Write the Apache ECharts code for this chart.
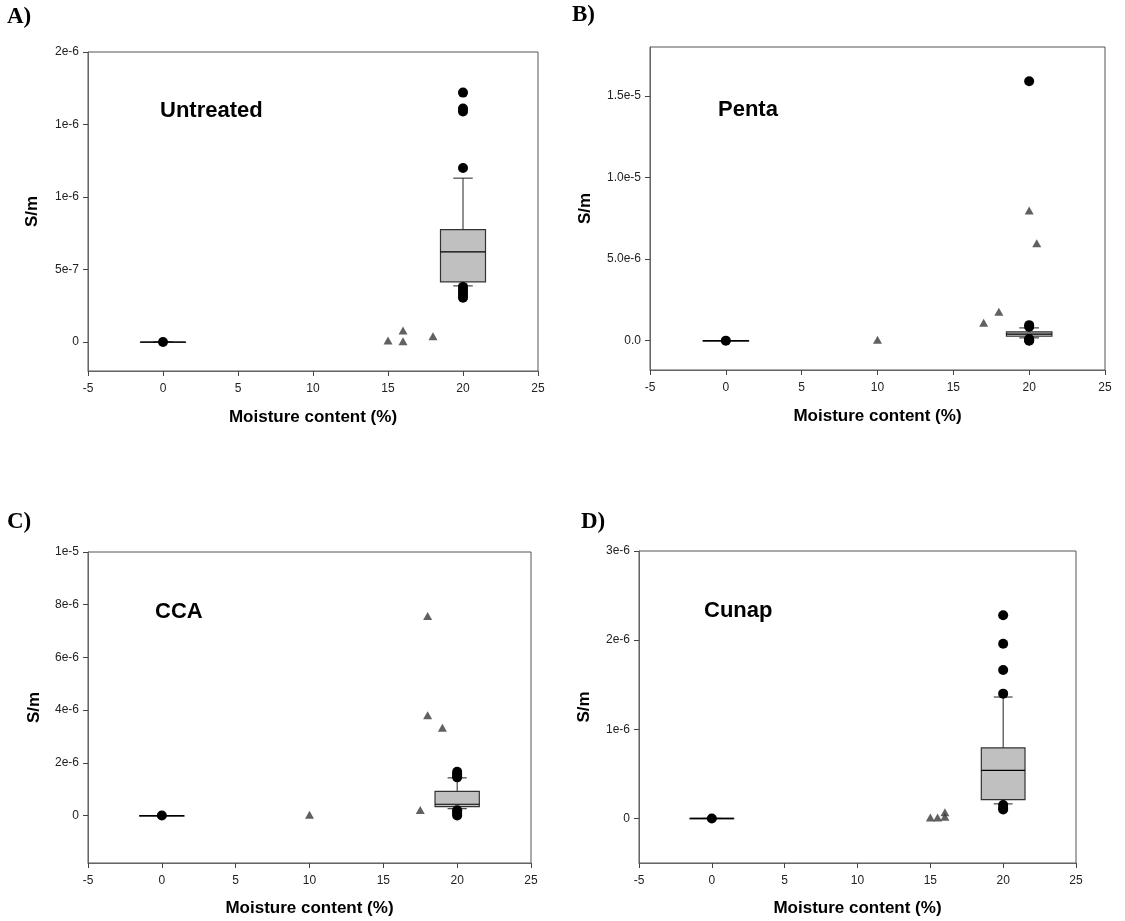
<!DOCTYPE html>
<html>
<head>
<meta charset="utf-8">
<script src="https://cdn.jsdelivr.net/npm/echarts@6/dist/echarts.min.js"></script>
<style>
html,body{margin:0;padding:0;background:#fff;}
#chart{width:1125px;height:921px;}
</style>
</head>
<body>
<div id="chart"></div>
<script>
// ---------- DATA ----------
// box rows: [x, lowerWhisker, Q1, median, Q3, upperWhisker]
var boxA = [[0, 0, 0, 0, 0, 0], [20, 3.87e-7, 4.15e-7, 6.22e-7, 7.75e-7, 1.13e-6]];
var dotsA = [[0, 0], [20, 1.72e-6], [20, 1.61e-6], [20, 1.59e-6], [20, 1.2e-6],
             [20, 3.8e-7], [20, 3.6e-7], [20, 3.4e-7], [20, 3.2e-7], [20, 3.05e-7]];
var triA = [[15, 1e-8], [16, 8e-8], [16, 5e-9], [18, 4e-8]];

var boxB = [[0, 0, 0, 0, 0, 0], [20, 1.7e-7, 2.7e-7, 4.0e-7, 5.4e-7, 7.8e-7]];
var dotsB = [[0, 0], [20, 1.59e-5], [20, 9.5e-7], [20, 8.5e-7], [20, 1e-7], [20, 3e-8], [20, 0]];
var triB = [[10, 5e-8], [17, 1.09e-6], [18, 1.77e-6], [20, 7.98e-6], [20.5, 5.97e-6]];

var boxC = [[0, 0, 0, 0, 0, 0], [20, 2.6e-7, 3.4e-7, 4.3e-7, 9.2e-7, 1.43e-6]];
var dotsC = [[0, 0], [20, 1.66e-6], [20, 1.58e-6], [20, 1.5e-6], [20, 1.45e-6],
             [20, 2e-7], [20, 1.4e-7], [20, 8e-8], [20, 0]];
var triC = [[10, 3e-8], [17.5, 2.1e-7], [18, 7.57e-6], [18, 3.81e-6], [19, 3.33e-6]];

var boxD = [[0, 0, 0, 0, 0, 0], [20, 1.63e-7, 2.12e-7, 5.38e-7, 7.91e-7, 1.362e-6]];
var dotsD = [[0, 0], [20, 2.28e-6], [20, 1.96e-6], [20, 1.665e-6], [20, 1.4e-6],
             [20, 1.5e-7], [20, 1.2e-7], [20, 1.0e-7]];
var triD = [[15, 1e-8], [15.5, 1e-8], [16, 7e-8], [16, 2e-8]];

var xTicks = [-5, 0, 5, 10, 15, 20, 25];

var yTicksA = [0, 5e-7, 1e-6, 1.5e-6, 2e-6];
var yLabelsA = ['0', '5e-7', '1e-6', '1e-6', '2e-6'];
var yTicksB = [0, 5e-6, 1e-5, 1.5e-5];
var yLabelsB = ['0.0', '5.0e-6', '1.0e-5', '1.5e-5'];
var yTicksC = [0, 2e-6, 4e-6, 6e-6, 8e-6, 1e-5];
var yLabelsC = ['0', '2e-6', '4e-6', '6e-6', '8e-6', '1e-5'];
var yTicksD = [0, 1e-6, 2e-6, 3e-6];
var yLabelsD = ['0', '1e-6', '2e-6', '3e-6'];

var panelLetters = ['A)', 'B)', 'C)', 'D)'];
var treatments = ['Untreated', 'Penta', 'CCA', 'Cunap'];
var xTitle = 'Moisture content (%)';
var yTitle = 'S/m';

// ---------- LAYOUT ----------
var grids = [
  {left: 88, top: 52, width: 450, height: 319},
  {left: 650, top: 47, width: 455, height: 323},
  {left: 88, top: 552, width: 443, height: 311},
  {left: 639, top: 551, width: 437, height: 312}
];
var yRanges = [[-2e-7, 2e-6], [-1.8e-6, 1.8e-5], [-1.8e-6, 1e-5], [-5e-7, 3e-6]];
var yNameGaps = [47, 56, 45, 46];
var xNameGaps = [38, 38, 37, 37];
var letterPos = [[7, 6], [572, 4], [7, 511], [581, 511]];
var treatPos = [[160, 100], [718, 99], [155, 601], [704, 600]];

var yTicksAll = [yTicksA, yTicksB, yTicksC, yTicksD];
var yLabelsAll = [yLabelsA, yLabelsB, yLabelsC, yLabelsD];
var boxesAll = [boxA, boxB, boxC, boxD];
var dotsAll = [dotsA, dotsB, dotsC, dotsD];
var trisAll = [triA, triB, triC, triD];

var FONT = "'Liberation Sans', Arial, sans-serif";

function makeFormatter(ticks, labels) {
  return function (v) {
    for (var i = 0; i < ticks.length; i++) {
      var tol = Math.max(Math.abs(ticks[i]) * 1e-6, 1e-15);
      if (Math.abs(v - ticks[i]) <= tol) return labels[i];
    }
    return '';
  };
}

function renderBox(params, api) {
  var x = api.value(0), lo = api.value(1), q1 = api.value(2),
      md = api.value(3), q3 = api.value(4), hi = api.value(5);
  var half = 1.5, cap = 0.65;
  var tl = api.coord([x - half, q3]);
  var br = api.coord([x + half, q1]);
  var mL = api.coord([x - half, md]);
  var mR = api.coord([x + half, md]);
  var top = api.coord([x, hi]);
  var bot = api.coord([x, lo]);
  var cxL = api.coord([x - cap, hi]);
  var cxR = api.coord([x + cap, hi]);
  var cbL = api.coord([x - cap, lo]);
  var cbR = api.coord([x + cap, lo]);
  var stroke = {stroke: '#222', lineWidth: 1};
  return {
    type: 'group',
    children: [
      {type: 'line', shape: {x1: top[0], y1: top[1], x2: top[0], y2: tl[1]}, style: stroke},
      {type: 'line', shape: {x1: bot[0], y1: bot[1], x2: bot[0], y2: br[1]}, style: stroke},
      {type: 'line', shape: {x1: cxL[0], y1: cxL[1], x2: cxR[0], y2: cxR[1]}, style: stroke},
      {type: 'line', shape: {x1: cbL[0], y1: cbL[1], x2: cbR[0], y2: cbR[1]}, style: stroke},
      {type: 'rect', shape: {x: tl[0], y: tl[1], width: br[0] - tl[0], height: Math.max(br[1] - tl[1], 0.5)},
        style: {fill: '#c0c0c0', stroke: '#333', lineWidth: 1.2}},
      {type: 'line', shape: {x1: mL[0], y1: mL[1], x2: mR[0], y2: mR[1]}, style: {stroke: '#000', lineWidth: 1.2}}
    ]
  };
}

var option = {
  backgroundColor: '#fff',
  animation: false,
  grid: [], xAxis: [], yAxis: [], series: [], graphic: []
};

for (var i = 0; i < 4; i++) {
  var g = grids[i];
  option.grid.push({left: g.left, top: g.top, width: g.width, height: g.height,
    show: true, borderColor: '#555', borderWidth: 1, backgroundColor: 'transparent', containLabel: false});
  option.xAxis.push({
    type: 'value', gridIndex: i, min: -5, max: 25, interval: 5,
    axisLine: {show: true, onZero: false, lineStyle: {color: '#666', width: 1}},
    axisTick: {show: true, inside: false, length: 5, lineStyle: {color: '#444'}},
    axisLabel: {show: true, fontSize: 12, color: '#222', margin: 12, fontFamily: FONT,
      customValues: xTicks, formatter: function (v) { return String(v); }},
    splitLine: {show: false},
    name: xTitle, nameLocation: 'middle', nameGap: xNameGaps[i],
    nameTextStyle: {fontSize: 17, fontWeight: 'bold', color: '#000', fontFamily: FONT}
  });
  option.yAxis.push({
    type: 'value', gridIndex: i, min: yRanges[i][0], max: yRanges[i][1],
    axisLine: {show: true, onZero: false, lineStyle: {color: '#666', width: 1}},
    axisTick: {show: true, inside: false, length: 5, customValues: yTicksAll[i], lineStyle: {color: '#444'}},
    axisLabel: {show: true, fontSize: 12, color: '#222', margin: 9, fontFamily: FONT,
      customValues: yTicksAll[i], formatter: makeFormatter(yTicksAll[i], yLabelsAll[i])},
    splitLine: {show: false},
    name: yTitle, nameLocation: 'middle', nameGap: yNameGaps[i],
    nameTextStyle: {fontSize: 17, fontWeight: 'bold', color: '#000', fontFamily: FONT}
  });
  option.series.push({
    type: 'custom', xAxisIndex: i, yAxisIndex: i, renderItem: renderBox,
    data: boxesAll[i], encode: {x: 0, y: [1, 2, 3, 4, 5]}, z: 2, silent: true
  });
  option.series.push({
    type: 'scatter', xAxisIndex: i, yAxisIndex: i, data: trisAll[i],
    symbol: 'triangle', symbolSize: [9, 8], itemStyle: {color: '#3a3a3a'}, z: 3, silent: true
  });
  option.series.push({
    type: 'scatter', xAxisIndex: i, yAxisIndex: i, data: dotsAll[i],
    symbol: 'circle', symbolSize: 10, itemStyle: {color: '#000', opacity: 1}, z: 4, silent: true
  });
  option.graphic.push({
    type: 'text', left: letterPos[i][0], top: letterPos[i][1],
    style: {text: panelLetters[i], font: "bold 23px 'Liberation Serif', 'Times New Roman', serif", fill: '#000'}
  });
  option.graphic.push({
    type: 'text', left: treatPos[i][0], top: treatPos[i][1],
    style: {text: treatments[i], font: "bold 22px " + FONT, fill: '#000'}
  });
}

var chart = echarts.init(document.getElementById('chart'), null, {renderer: 'canvas'});
chart.setOption(option);
</script>
</body>
</html>
